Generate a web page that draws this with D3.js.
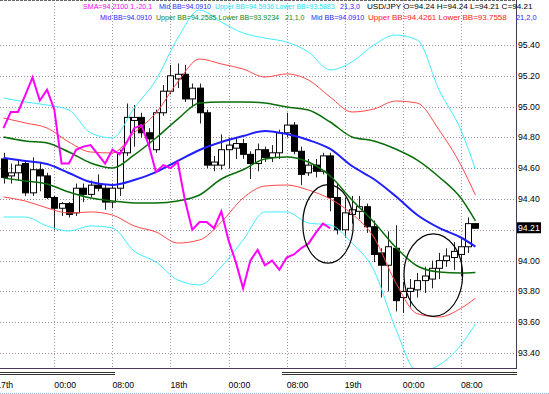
<!DOCTYPE html>
<html lang="en">
<head>
    <meta charset="utf-8">
    <title>USD/JPY H1 - Bollinger Bands</title>
    <script type="text/javascript" src="https://d3js.org/d3.v7.min.js"></script>
    <style>
        body { margin: 0; background: #fff; }
        svg { display: block; }
        text { font-family: "Liberation Sans", Arial, sans-serif; }
    </style>
</head>
<body>
    <div id="chart"></div>

    <script type="text/javascript">

        // Hourly candles (index 0 = first bar on screen)
        var opens  = [94.66,94.55,94.57,94.63,94.44,94.59,94.55,94.41,94.34,94.37,94.31,94.47,94.43,94.49,94.47,94.38,94.47,94.70,94.91,94.93,94.83,94.72,94.96,95.10,95.18,95.21,95.05,95.12,94.96,94.62,94.62,94.72,94.73,94.76,94.69,94.63,94.72,94.67,94.70,94.83,94.88,94.71,94.57,94.62,94.58,94.68,94.41,94.20,94.30,94.32,94.35,94.22,94.05,93.97,94.08,93.76,93.80,93.81,93.87,93.88,93.95,94.00,94.02,94.04,94.09,94.24];
        var highs  = [94.70,94.63,94.66,94.65,94.67,94.64,94.57,94.42,94.38,94.38,94.50,94.50,94.52,94.56,94.49,94.50,94.72,95.02,95.01,94.96,94.86,94.98,95.14,95.27,95.28,95.27,95.15,95.15,94.98,94.68,94.82,94.80,94.80,94.79,94.71,94.76,94.74,94.75,94.85,94.96,94.90,94.74,94.66,94.66,94.70,94.70,94.50,94.41,94.42,94.42,94.37,94.26,94.08,94.19,94.23,93.86,93.88,93.92,93.96,94.00,94.05,94.08,94.12,94.14,94.28,94.24];
        var lows   = [94.50,94.50,94.52,94.42,94.42,94.45,94.40,94.20,94.29,94.28,94.29,94.38,94.41,94.45,94.33,94.34,94.42,94.68,94.74,94.80,94.73,94.70,94.94,95.08,95.12,95.03,95.00,94.89,94.60,94.58,94.59,94.60,94.66,94.66,94.53,94.58,94.64,94.64,94.66,94.80,94.69,94.49,94.55,94.54,94.56,94.32,94.17,94.15,94.24,94.27,94.18,93.99,93.76,93.80,93.67,93.66,93.70,93.76,93.79,93.82,93.88,93.96,93.94,93.90,94.05,94.21];
        var closes = [94.54,94.57,94.62,94.44,94.59,94.55,94.41,94.34,94.37,94.30,94.47,94.43,94.49,94.47,94.38,94.47,94.70,94.93,94.93,94.83,94.79,94.96,95.10,95.20,95.21,95.05,95.12,94.96,94.62,94.64,94.72,94.75,94.76,94.69,94.63,94.72,94.67,94.70,94.83,94.88,94.71,94.56,94.62,94.58,94.68,94.41,94.20,94.31,94.33,94.35,94.22,94.04,93.97,94.09,93.74,93.80,93.82,93.87,93.90,93.95,94.00,94.03,94.06,94.09,94.24,94.21];

        // Bollinger bands (21 bars), read every 3 bars
        var bandBars = [0,3,6,9,12,15,18,21,24,27,30,33,36,39,42,45,48,51,54,57,60,63,65];
        var midBB    = [94.666,94.647,94.627,94.569,94.510,94.491,94.523,94.575,94.647,94.718,94.770,94.809,94.842,94.822,94.783,94.725,94.614,94.530,94.419,94.296,94.212,94.150,94.091];
        var upper1   = [94.803,94.777,94.764,94.705,94.634,94.601,94.686,94.796,94.919,95.023,95.030,95.030,95.023,94.997,94.978,94.900,94.803,94.777,94.725,94.653,94.543,94.406,94.2585];
        var lower1   = [94.536,94.517,94.497,94.445,94.406,94.387,94.374,94.374,94.387,94.426,94.530,94.590,94.660,94.673,94.640,94.549,94.394,94.251,94.088,93.965,93.926,93.919,93.9234];
        var upper2   = [94.926,94.894,94.861,94.770,94.705,94.699,94.829,94.958,95.160,95.309,95.277,95.244,95.192,95.212,95.173,95.062,94.965,94.984,95.036,95.023,94.848,94.621,94.4261];
        var lower2   = [94.413,94.387,94.342,94.309,94.316,94.296,94.225,94.186,94.114,94.134,94.250,94.406,94.484,94.491,94.458,94.400,94.303,94.153,93.860,93.655,93.634,93.690,93.7558];
        var upper3   = [95.056,95.030,95.010,94.978,94.829,94.796,94.991,95.173,95.445,95.627,95.549,95.478,95.445,95.419,95.355,95.238,95.290,95.400,95.465,95.432,95.108,94.848,94.5936];
        var lower3   = [94.283,94.283,94.225,94.192,94.225,94.212,94.062,93.991,93.874,93.842,93.960,94.134,94.316,94.316,94.244,94.231,94.114,93.939,93.560,93.280,93.322,93.452,93.5883];

        // SMA(1) shifted -20 bars
        var smaShift = [94.86,94.965,94.965,95.075,95.19,95.04,95.11,94.98,94.63,94.63,94.72,94.74,94.75,94.69,94.63,94.72,94.69,94.77,94.86,94.88,94.75,94.575,94.62,94.60,94.64,94.39,94.20,94.25,94.25,94.21,94.32,94.13,93.99,93.82,94.00,94.07,93.97,94.00,93.94,94.02,94.04,94.08,94.11,94.18,94.24,94.21];

        // Hand-drawn ellipses: centre bar, centre price, half width (bars), half height (price)
        var ellipseBars   = [44.7, 59.2];
        var ellipsePrices = [94.238, 93.906];
        var ellipseRx     = [3.48, 4.04];
        var ellipseRy     = [0.255, 0.268];

        // Axis labels
        var priceTicks = [93.40,93.60,93.80,94.00,94.20,94.40,94.60,94.80,95.00,95.20,95.40];
        var timeBars   = [-1,7,15,23,31,39,47,55,63];
        var timeLabels = ["17th","00:00","08:00","18th","00:00","08:00","19th","00:00","08:00"];
        var lastPrice  = 94.21;

        var svgWidth = 549;
        var svgHeight = 394;
        var plotRight = 516;
        var plotBottom = 368;

        var svg = d3.select("#chart").append("svg")
            .attr("width", svgWidth)
            .attr("height", svgHeight);

        var x = d3.scaleLinear().domain([0, 65]).range([3.5, 475.4]);
        var y = d3.scaleLinear().domain([93.4, 95.4]).range([353, 45]);

        svg.append("clipPath").attr("id", "plotClip")
            .append("rect").attr("x", 0).attr("y", 0)
            .attr("width", plotRight).attr("height", plotBottom);

        // Grid
        var grid = svg.append("g").attr("clip-path", "url(#plotClip)");
        grid.selectAll("line.h")
            .data(priceTicks)
            .enter().append("line")
            .attr("class", "h")
            .attr("x1", 0).attr("x2", plotRight)
            .attr("y1", function(d) { return Math.round(y(d)) + 0.5; })
            .attr("y2", function(d) { return Math.round(y(d)) + 0.5; })
            .attr("stroke", "#a08ca0")
            .attr("stroke-dasharray", "1,2");
        grid.selectAll("line.v")
            .data(timeBars)
            .enter().append("line")
            .attr("class", "v")
            .attr("x1", function(d) { return Math.round(x(d)) + 0.5; })
            .attr("x2", function(d) { return Math.round(x(d)) + 0.5; })
            .attr("y1", 0).attr("y2", plotBottom + 4)
            .attr("stroke", "#9c94b4")
            .attr("stroke-dasharray", "1,2");

        // Candles
        var candles = svg.append("g").attr("clip-path", "url(#plotClip)");
        var bars = d3.range(opens.length);
        candles.selectAll("line.wick")
            .data(bars)
            .enter().append("line")
            .attr("class", "wick")
            .attr("x1", function(i) { return Math.round(x(i)) + 0.5; })
            .attr("x2", function(i) { return Math.round(x(i)) + 0.5; })
            .attr("y1", function(i) { return y(highs[i]); })
            .attr("y2", function(i) { return y(lows[i]); })
            .attr("stroke", "#222")
            .attr("stroke-width", 1);
        candles.selectAll("rect.body")
            .data(bars)
            .enter().append("rect")
            .attr("class", "body")
            .attr("x", function(i) { return Math.round(x(i)) - 2.5; })
            .attr("y", function(i) { return y(Math.max(opens[i], closes[i])); })
            .attr("width", 6)
            .attr("height", function(i) { return Math.max(1, Math.abs(y(opens[i]) - y(closes[i]))); })
            .attr("fill", function(i) { return closes[i] < opens[i] ? "#000" : "#fff"; })
            .attr("stroke", "#000")
            .attr("stroke-width", 1);

        // Indicator lines
        var lines = svg.append("g").attr("clip-path", "url(#plotClip)");
        var bandLine = d3.line()
            .x(function(d) { return x(d[0]); })
            .y(function(d) { return y(d[1]); })
            .curve(d3.curveMonotoneX);

        function addBand(values, color, width) {
            lines.append("path")
                .datum(d3.zip(bandBars, values))
                .attr("d", bandLine)
                .attr("fill", "none")
                .attr("stroke", color)
                .attr("stroke-width", width);
        }
        addBand(upper3, "#40eeff", 1);
        addBand(lower3, "#40eeff", 1);
        addBand(upper2, "#ff4848", 1);
        addBand(lower2, "#ff4848", 1);
        addBand(upper1, "#0a6e0a", 1.5);
        addBand(lower1, "#0a6e0a", 1.5);
        addBand(midBB, "#1f1fff", 2);

        var smaLine = d3.line()
            .x(function(d, i) { return x(i); })
            .y(function(d) { return y(d); });
        lines.append("path")
            .datum(smaShift)
            .attr("d", smaLine)
            .attr("fill", "none")
            .attr("stroke", "#ff00ff")
            .attr("stroke-width", 2);

        // Ellipses
        lines.selectAll("ellipse")
            .data(ellipseBars)
            .enter().append("ellipse")
            .attr("cx", function(d) { return x(d); })
            .attr("cy", function(d, i) { return y(ellipsePrices[i]); })
            .attr("rx", function(d, i) { return x(ellipseRx[i]) - x(0); })
            .attr("ry", function(d, i) { return y(0) - y(ellipseRy[i]); })
            .attr("fill", "none")
            .attr("stroke", "#000")
            .attr("stroke-width", 1.2);

        // Frame
        svg.append("line").attr("x1", 0).attr("x2", plotRight).attr("y1", 0.5).attr("y2", 0.5)
            .attr("stroke", "#666").attr("stroke-dasharray", "3,1");
        svg.append("line").attr("x1", plotRight + 0.5).attr("x2", plotRight + 0.5).attr("y1", 0).attr("y2", plotBottom + 1)
            .attr("stroke", "#4a3a5a");
        svg.append("line").attr("x1", 0).attr("x2", plotRight + 1).attr("y1", plotBottom + 0.5).attr("y2", plotBottom + 0.5)
            .attr("stroke", "#4a3a5a");
        [[0, 115], [282, plotRight + 1]].forEach(function(s) {
            [372.5, 374.5].forEach(function(yy) {
                svg.append("line").attr("x1", s[0]).attr("x2", s[1]).attr("y1", yy).attr("y2", yy)
                    .attr("stroke", "#333");
            });
        });
        svg.append("line").attr("x1", 0).attr("x2", svgWidth).attr("y1", 393.5).attr("y2", 393.5)
            .attr("stroke", "#9ab0d0").attr("stroke-dasharray", "1,1");

        // Right price axis
        svg.selectAll("text.price")
            .data(priceTicks.filter(function(d) { return Math.abs(d - lastPrice) > 0.05; }))
            .enter().append("text")
            .attr("class", "price")
            .attr("x", 518)
            .attr("y", function(d) { return y(d) + 3; })
            .style("font-size", "8.7px")
            .style("fill", "#000")
            .text(function(d) { return d.toFixed(2); });
        svg.append("rect")
            .attr("x", 517).attr("y", y(lastPrice) - 6)
            .attr("width", 24).attr("height", 11)
            .attr("fill", "#000");
        svg.append("text")
            .attr("x", 518).attr("y", y(lastPrice) + 3)
            .style("font-size", "8.7px")
            .style("fill", "#fff")
            .text(lastPrice.toFixed(2));

        // Time axis
        svg.selectAll("text.time")
            .data(timeBars)
            .enter().append("text")
            .attr("class", "time")
            .attr("x", function(d) { return x(d); })
            .attr("y", 388)
            .style("font-size", "8.7px")
            .style("fill", "#000")
            .text(function(d, i) { return timeLabels[i]; });

        // Indicator legend (font size chosen per piece to fit the space it takes)
        var legendItems = [
            { row: 0, x: 83,  size: 7.1, color: "#ff00ff", text: "SMA=94.2100  1,-20,1" },
            { row: 0, x: 159, size: 7.0, color: "#2828ff", text: "Mid BB=94.0910" },
            { row: 0, x: 215, size: 6.9, color: "#20e0ff", text: "Upper BB=94.5936 Lower BB=93.5883" },
            { row: 0, x: 340, size: 7.2, color: "#2828ff", text: "21,3,0" },
            { row: 0, x: 367, size: 8.1, color: "#000",    text: "USD/JPY O=94.24 H=94.24 L=94.21 C=94.21" },
            { row: 1, x: 100, size: 7.0, color: "#2828ff", text: "Mid BB=94.0910" },
            { row: 1, x: 156, size: 7.1, color: "#118811", text: "Upper BB=94.2585 Lower BB=93.9234" },
            { row: 1, x: 285, size: 7.0, color: "#118811", text: "21,1,0" },
            { row: 1, x: 311, size: 7.2, color: "#2828ff", text: "Mid BB=94.0910" },
            { row: 1, x: 368, size: 8.0, color: "#ff2020", text: "Upper BB=94.4261 Lower BB=93.7558" },
            { row: 1, x: 516, size: 7.4, color: "#2828ff", text: "21,2,0" }
        ];
        svg.selectAll("text.legend")
            .data(legendItems)
            .enter().append("text")
            .attr("class", "legend")
            .attr("x", function(d) { return d.x; })
            .attr("y", function(d) { return d.row === 0 ? 9 : 20; })
            .style("font-size", function(d) { return d.size + "px"; })
            .style("fill", function(d) { return d.color; })
            .text(function(d) { return d.text; });

    </script>
</body>
</html>
